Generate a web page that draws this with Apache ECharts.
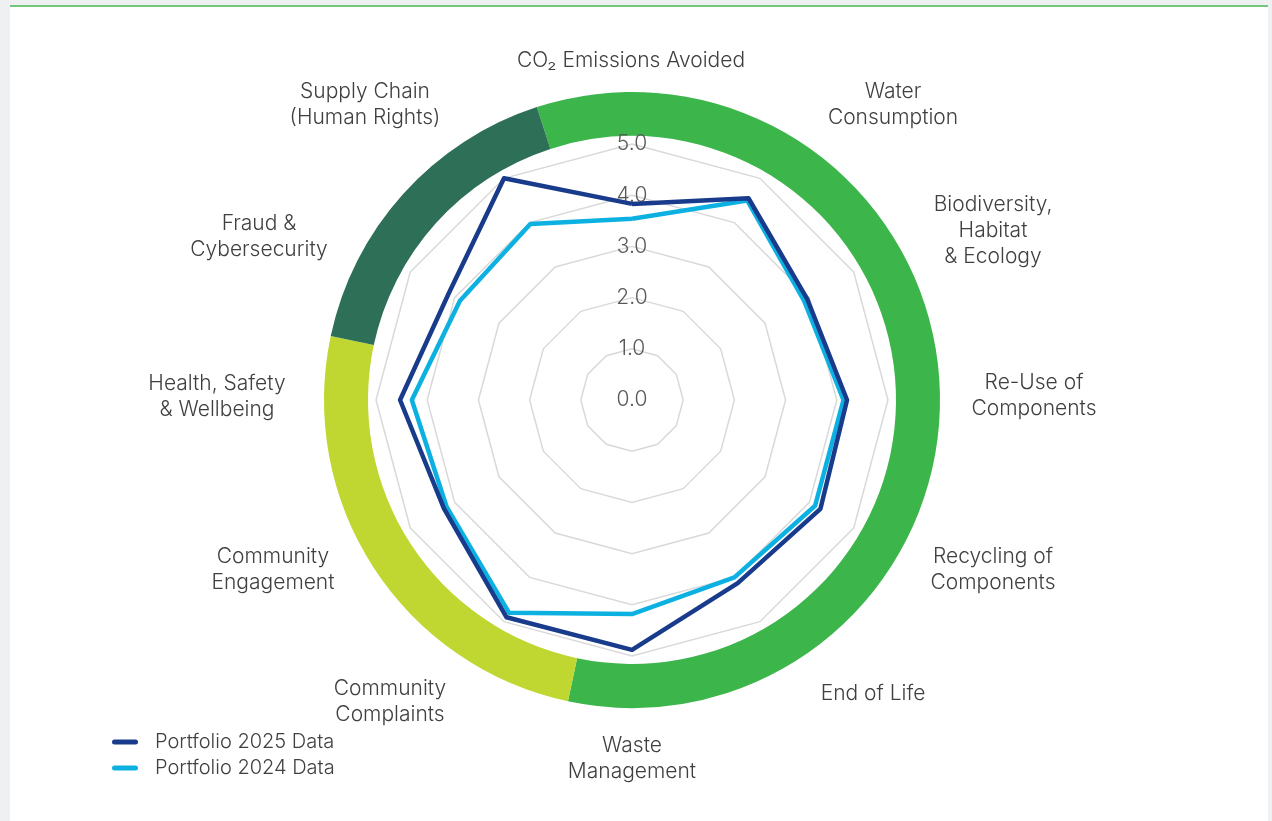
<!DOCTYPE html>
<html>
<head>
<meta charset="utf-8">
<script src="https://cdn.jsdelivr.net/npm/echarts@6/dist/echarts.min.js"></script>
<style>
  html, body { margin: 0; padding: 0; background: #eef0f2; }
  #card { position: absolute; left: 10px; top: 5px; width: 1258px; height: 816px; background: #ffffff; border-top: 2px solid #72c67e; }
  #chart { position: absolute; left: 0; top: 0; width: 1272px; height: 821px; }
</style>
</head>
<body>
<div id="card"></div>
<div id="chart"></div>
<script>
// ---- data ----
const categories = [
  'CO₂ Emissions Avoided', 'Water\nConsumption', 'Biodiversity,\nHabitat\n& Ecology',
  'Re-Use of\nComponents', 'Recycling of\nComponents', 'End of Life', 'Waste\nManagement',
  'Community\nComplaints', 'Community\nEngagement', 'Health, Safety\n& Wellbeing',
  'Fraud &\nCybersecurity', 'Supply Chain\n(Human Rights)'
];
const seriesNames = ['Portfolio 2025 Data', 'Portfolio 2024 Data'];
const data2025 = [3.83, 4.55, 3.95, 4.2, 4.25, 4.13, 4.88, 4.9, 4.24, 4.53, 4.14, 5.0];
const data2024 = [3.54, 4.5, 3.88, 4.13, 4.13, 4.0, 4.18, 4.8, 4.18, 4.3, 3.88, 3.97];
const axisMin = 0, axisMax = 5, axisSplits = 5;
const groupNames = ['Environmental', 'Social', 'Governance'];
const groupCounts = [7, 3, 2];

// ---- layout / style ----
const CX = 632, CY = 400, R = 256;
const labelPos = [
  [631, 61], [893, 105], [993, 231], [1034, 396], [993, 570], [873, 694],
  [632, 759], [390, 702], [273, 570], [217, 397], [259, 237], [365, 105]
];
const groupColors = ['#3cb54b', '#bfd730', '#2e6f58'];
const lineColors = ['#193b8b', '#0cb1e2'];
const FONT = 'Inter, "Open Sans", sans-serif';
const FW = 300, FS = 21;
const TXT = '#404040';

// ECharts radar runs counter-clockwise; reorder so categories run clockwise.
const order = [0].concat(categories.map((_, i) => i).slice(1).reverse());
const reorder = arr => order.map(i => arr[i]);

const chart = echarts.init(document.getElementById('chart'), null, { renderer: 'canvas' });

const indicator = reorder(categories).map((c, i) => {
  const o = { name: c, min: axisMin, max: axisMax };
  if (i === 0) o.axisLabel = { show: true };
  return o;
});

const option = {
  animation: false,
  backgroundColor: 'transparent',
  legend: {
    orient: 'vertical',
    left: 112,
    top: 732,
    padding: 0,
    itemWidth: 26,
    itemHeight: 5,
    itemGap: 6,
    icon: 'path://M2.5,0 H23.5 A2.5,2.5 0 0 1 23.5,5 H2.5 A2.5,2.5 0 0 1 2.5,0 Z',
    data: seriesNames,
    textStyle: { fontFamily: FONT, fontWeight: FW, fontSize: 20, color: TXT, padding: [0, 0, 0, 12] }
  },
  radar: {
    center: [CX, CY],
    radius: R,
    startAngle: 90,
    shape: 'polygon',
    splitNumber: axisSplits,
    indicator: indicator,
    axisName: { show: false },
    axisLine: { show: false },
    axisTick: { show: false },
    splitArea: { show: false },
    splitLine: { lineStyle: { color: '#d9d9d9', width: 1.5 } },
    axisLabel: {
      show: false,
      margin: 0,
      align: 'center',
      verticalAlign: 'middle',
      fontFamily: FONT,
      fontWeight: FW,
      fontSize: FS,
      color: '#595959',
      formatter: v => Number(v).toFixed(1)
    }
  },
  series: [
    {
      type: 'pie',
      silent: true,
      center: [CX, CY],
      radius: [264, 308],
      startAngle: 108,
      clockwise: true,
      label: { show: false },
      labelLine: { show: false },
      z: 0,
      data: groupNames.map((n, i) => ({ name: n, value: groupCounts[i], itemStyle: { color: groupColors[i] } }))
    },
    {
      type: 'radar',
      symbol: 'none',
      z: 3,
      data: [
        { name: seriesNames[1], value: reorder(data2024), lineStyle: { color: lineColors[1], width: 4.5 }, itemStyle: { color: lineColors[1] } },
        { name: seriesNames[0], value: reorder(data2025), lineStyle: { color: lineColors[0], width: 4.5 }, itemStyle: { color: lineColors[0] } }
      ]
    }
  ],
  graphic: categories.map((c, i) => ({
    type: 'text',
    x: labelPos[i][0],
    y: labelPos[i][1],
    silent: true,
    style: {
      text: c,
      fontFamily: FONT,
      fontWeight: FW,
      fontSize: FS,
      lineHeight: 26,
      fill: TXT,
      align: 'center',
      verticalAlign: 'middle'
    }
  }))
};
chart.setOption(option);
</script>
</body>
</html>
